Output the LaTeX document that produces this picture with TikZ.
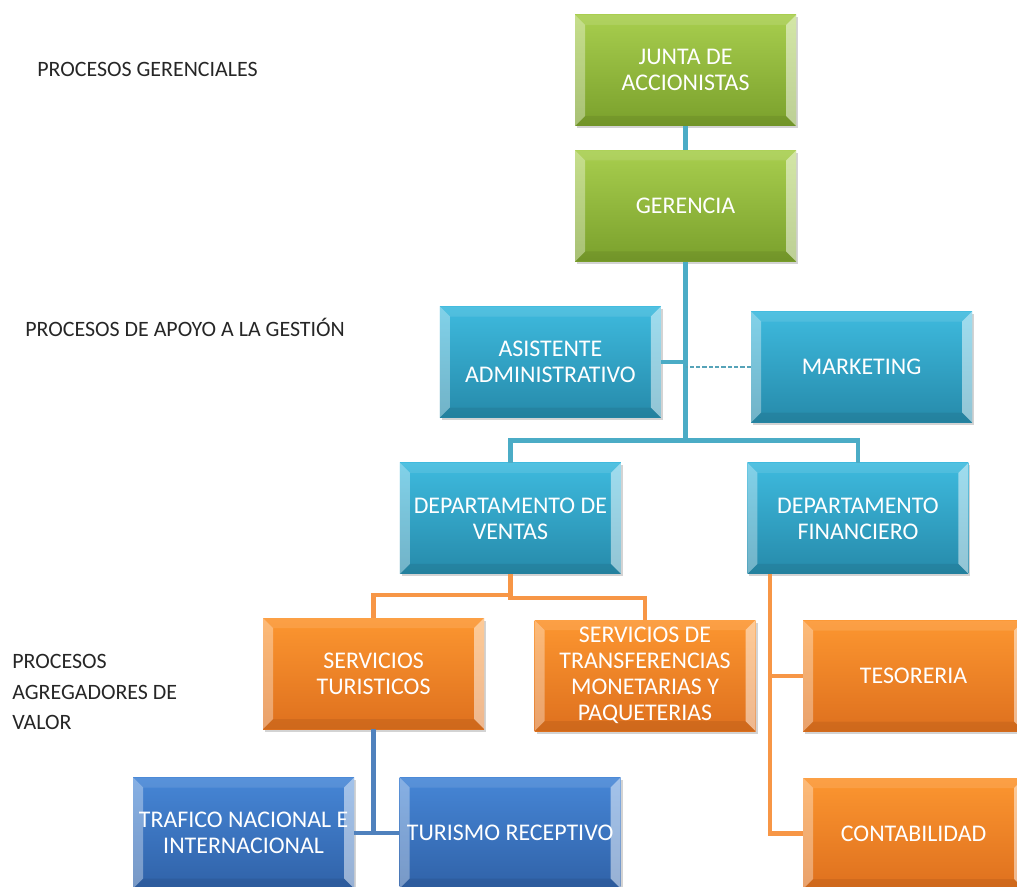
\documentclass[tikz,border=0pt]{standalone}
\usepackage{fontspec}
\setmainfont{Carlito}
\usepackage{tikz}
\usetikzlibrary{positioning, calc, shadows}

\definecolor{greentop}{RGB}{168,206,78}
\definecolor{greenbot}{RGB}{122,160,44}
\definecolor{tealtop}{RGB}{62,186,222}
\definecolor{tealbot}{RGB}{38,138,170}
\definecolor{orangetop}{RGB}{252,150,48}
\definecolor{orangebot}{RGB}{222,112,30}
\definecolor{navytop}{RGB}{70,134,214}
\definecolor{navybot}{RGB}{48,98,168}
\definecolor{tealline}{RGB}{75,172,198}
\definecolor{orangeline}{RGB}{247,150,70}
\definecolor{navyline}{RGB}{79,129,189}

\begin{document}
\begin{tikzpicture}[
    node distance=0.6cm and 1.2cm,
    box/.style={
        rectangle,
        align=center,
        minimum width=5.525cm,
        minimum height=2.775cm,
        inner sep=0pt,
        text=white,
        font=\fontsize{17}{18.5}\selectfont,
        drop shadow={shadow xshift=0.05cm, shadow yshift=-0.06cm, opacity=0.35},
        path picture={
            \fill[white, opacity=0.35] (path picture bounding box.north west) -- ++(0.25,-0.25)
                -- ([shift={(0.25,0.25)}]path picture bounding box.south west)
                -- (path picture bounding box.south west) -- cycle;
            \fill[white, opacity=0.5] (path picture bounding box.north east) -- ++(-0.25,-0.25)
                -- ([shift={(-0.25,0.25)}]path picture bounding box.south east)
                -- (path picture bounding box.south east) -- cycle;
            \fill[white, opacity=0.1] (path picture bounding box.north west) -- ++(0.25,-0.25)
                -- ([shift={(-0.25,-0.25)}]path picture bounding box.north east)
                -- (path picture bounding box.north east) -- cycle;
            \fill[black, opacity=0.07] (path picture bounding box.south west) -- ++(0.25,0.25)
                -- ([shift={(-0.25,0.25)}]path picture bounding box.south east)
                -- (path picture bounding box.south east) -- cycle;
        }
    },
    greenbox/.style={box, top color=greentop, bottom color=greenbot},
    tealbox/.style={box, top color=tealtop, bottom color=tealbot},
    orangebox/.style={box, top color=orangetop, bottom color=orangebot},
    navybox/.style={box, top color=navytop, bottom color=navybot},
    level/.style={anchor=west, align=left, inner sep=0pt, text=black!85,
        font=\fontsize{15.6}{22}\selectfont},
    tealwire/.style={draw=tealline, line width=3.2pt},
    orangewire/.style={draw=orangeline, line width=3.2pt},
    navywire/.style={draw=navyline, line width=3.2pt}
]

\useasboundingbox (0,0) rectangle (25.425,-22.175);
\clip (0,0) rectangle (25.425,-22.175);

% Levels
\node[level] (gerenciales) at (0.925,-1.725) {PROCESOS GERENCIALES};
\node[level] (apoyo) at (0.625,-8.175) {PROCESOS DE APOYO A LA GESTIÓN};
\node[level] (agregadores) at (0.3,-17.3) {PROCESOS\\AGREGADORES DE\\VALOR};

% Top
\node[greenbox] (junta) at (17.14,-1.76) {JUNTA DE\\ACCIONISTAS};
\node[greenbox, below=of junta] (gerencia) {GERENCIA};

% Support
\node[tealbox] (asistente) at (13.76,-9.05) {ASISTENTE\\ADMINISTRATIVO};
\node[tealbox] (marketing) at (21.54,-9.175) {MARKETING};

% Departments
\node[tealbox] (ventas) at (12.76,-12.96) {DEPARTAMENTO DE\\VENTAS};
\node[tealbox, right=3.15cm of ventas] (financiero) {DEPARTAMENTO\\FINANCIERO};

% Services
\node[orangebox] (turisticos) at (9.34,-16.84) {SERVICIOS\\TURISTICOS};
\node[orangebox] (transferencias) at (16.125,-16.89) {SERVICIOS DE\\TRANSFERENCIAS\\MONETARIAS Y\\PAQUETERIAS};
\node[orangebox] (tesoreria) at (22.84,-16.9) {TESORERIA};
\node[orangebox, below=1.15cm of tesoreria] (contabilidad) {CONTABILIDAD};

% Bottom
\node[navybox] (trafico) at (6.09,-20.825) {TRAFICO NACIONAL E\\INTERNACIONAL};
\node[navybox, right=1.125cm of trafico] (turismo) {TURISMO RECEPTIVO};

% Connectors
\coordinate (bus) at ($(gerencia.south)+(0,-4.475)$);
\coordinate (vbus) at ($(ventas.south)+(0,-0.525)$);
\coordinate (fin) at ($(financiero.south west)+(0.575,0)$);

\draw[tealwire] (junta) -- (gerencia);
\draw[tealwire] (gerencia.south) -- (bus);
\draw[tealwire] (bus) -| (ventas.north);
\draw[tealwire] (bus) -| (financiero.north);
\draw[tealwire] (asistente.east) -- (asistente.east -| bus);
\draw[draw=tealline!80!gray, line width=1.2pt, dash pattern=on 3pt off 1.5pt] (marketing.west) -- (marketing.west -| bus);

\draw[orangewire] (ventas.south) -- (vbus) -| (turisticos.north);
\draw[orangewire] (vbus) -- ++(0,-0.075) -| (transferencias.north);
\draw[orangewire] (fin) |- (tesoreria.west);
\draw[orangewire] (fin) |- (contabilidad.west);

\draw[navywire] (turisticos.south) -- (turisticos.south |- trafico.east);
\draw[navywire] (trafico.east) -- (turismo.west);

\end{tikzpicture}
\end{document}
